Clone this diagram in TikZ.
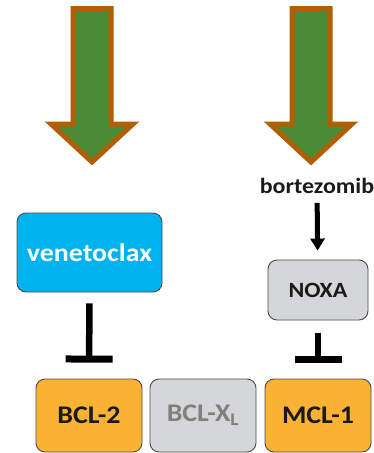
\documentclass[tikz,border=0pt]{standalone}
\usepackage{fontspec}
\setmainfont{Carlito}[FakeStretch=1.1]
\usepackage{tikz}
\usepackage{xcolor}
\usetikzlibrary{arrows.meta, positioning}
\definecolor{cGreen}{RGB}{74,139,53}
\definecolor{cRust}{RGB}{177,94,4}
\definecolor{cCyan}{RGB}{0,178,238}
\definecolor{cOrange}{RGB}{249,178,51}
\definecolor{cGrey}{RGB}{213,214,216}
\definecolor{cText}{RGB}{26,26,26}
\tikzset{
	box/.style      ={rectangle, rounded corners=9pt, draw=black!70, line width=0.9pt, align=center, font=\fontsize{25.4}{28}\selectfont\bfseries, text=cText, inner sep=0pt},
	drug/.style     ={box, fill=cCyan, text=white, minimum width=145pt, minimum height=79pt},
	target/.style   ={box, fill=cOrange, minimum width=106pt, minimum height=73pt},
	spare/.style    ={box, fill=cGrey, text=black!50, minimum width=106pt, minimum height=73pt},
	adaptor/.style  ={box, fill=cGrey, font=\fontsize{21.8}{24}\selectfont\bfseries, minimum width=100pt, minimum height=60pt},
	% connector styles
	inhib/.style    ={-{Bar[width=47pt, line width=7pt]}, line width=6.5pt},
	induce/.style   ={-{Triangle[width=14pt, length=12pt]}, line width=5pt},
	bigarrow/.style ={fill=cGreen, draw=cRust, line width=5pt, miter limit=10},
}
\begin{document}
\begin{tikzpicture}[x=1pt, y=-1pt]
	\useasboundingbox (0,0) rectangle (374,453);
	% the two big arrows
	\foreach \cx in {92,311}
		\draw[bigarrow] (\cx-19,8.5) -- (\cx+19,8.5) -- (\cx+19,124) -- (\cx+41,124) -- (\cx,162) -- (\cx-41,124) -- (\cx-19,124) -- cycle;
	% boxes
	\node[drug] (venetoclax) at (89.5,252.5) {venetoclax};
	\node[adaptor] (noxa) at (318,290) {NOXA};
	\node[target] (bcltwo) at (89,415.5) {BCL-2};
	\node[spare] (bclxl) at (203,415.5) {BCL-X\textsubscript{L}};
	\node[target] (mclone) at (318,415.5) {MCL-1};
	\node[font=\fontsize{21.8}{24}\selectfont\bfseries, text=cText, inner sep=1pt] (bortezomib) at (317,186) {bortezomib};
	% connectors
	\draw[induce, shorten <=8pt, shorten >=9pt] (bortezomib) -- (noxa);
	\draw[inhib, shorten <=11pt, shorten >=16pt] (venetoclax) -- (bcltwo);
	\draw[inhib, shorten <=13pt, shorten >=16pt] (noxa) -- (mclone);
\end{tikzpicture}
\end{document}
